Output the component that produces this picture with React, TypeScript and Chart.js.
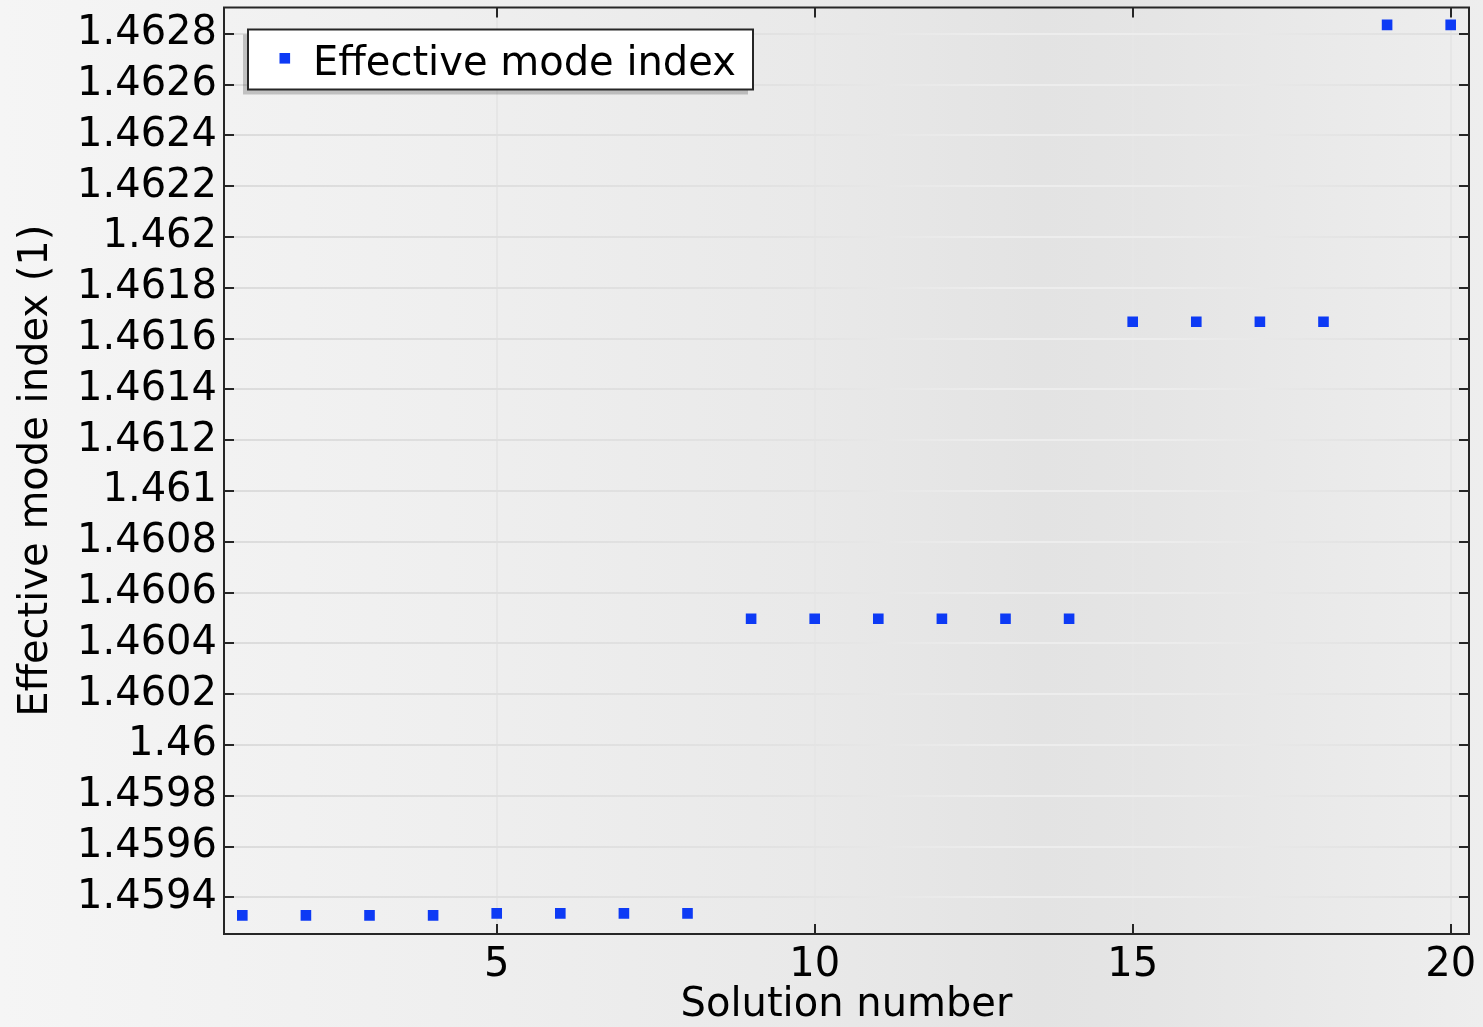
import React, { useEffect, useRef } from "react";
import { Chart, registerables } from "chart.js";

Chart.register(...registerables);

// Eigenmode solutions and their effective mode index
const SOLUTION_NUMBERS = [1, 2, 3, 4, 5, 6, 7, 8, 9, 10, 11, 12, 13, 14, 15, 16, 17, 18, 19, 20];
const EFFECTIVE_MODE_INDEX = [
  1.459329, 1.459329, 1.459329, 1.459329,
  1.459337, 1.459337, 1.459337, 1.459337,
  1.460497, 1.460497, 1.460497, 1.460497, 1.460497, 1.460497,
  1.461666, 1.461666, 1.461666, 1.461666,
  1.462835, 1.462835,
];

const X_TICKS = [5, 10, 15, 20];
const Y_TICKS = [
  1.4594, 1.4596, 1.4598, 1.46, 1.4602, 1.4604, 1.4606, 1.4608, 1.461,
  1.4612, 1.4614, 1.4616, 1.4618, 1.462, 1.4622, 1.4624, 1.4626, 1.4628,
];
const X_RANGE = [0.712, 20.288];
const Y_RANGE = [1.4592556, 1.4629035];

const SERIES_LABEL = "Effective mode index";
const X_TITLE = "Solution number";
const Y_TITLE = "Effective mode index (1)";

const FONT_FAMILY = "'DejaVu Sans', sans-serif";
const FONT_SIZE = 40;
const MARKER_COLOR = "#0d3af5";
const FRAME_COLOR = "#262626";

const W = 1483;
const H = 1027;

function shadeGradient(ctx: CanvasRenderingContext2D, x0: number, x1: number, stops: [number, string][]) {
  const g = ctx.createLinearGradient(x0, 0, x1, 0);
  stops.forEach(([p, c]) => g.addColorStop(p, c));
  return g;
}

// Soft horizontal shading of the whole figure
const backgroundPlugin = {
  id: "figureBackground",
  beforeDraw(chart: any) {
    const ctx = chart.ctx as CanvasRenderingContext2D;
    ctx.save();
    ctx.fillStyle = shadeGradient(ctx, 0, chart.width, [
      [0, "#f5f5f5"],
      [0.3, "#efefef"],
      [0.55, "#e9e9e9"],
      [0.7, "#e3e3e3"],
      [0.78, "#e5e5e5"],
      [1, "#eeeeee"],
    ]);
    ctx.fillRect(0, 0, chart.width, chart.height);
    ctx.restore();
  },
};

// Box frame with inward tick marks on all four sides
const framePlugin = {
  id: "axisFrame",
  afterDraw(chart: any) {
    const ctx = chart.ctx as CanvasRenderingContext2D;
    const { left, right, top, bottom } = chart.chartArea;
    const xs = chart.scales.x;
    const ys = chart.scales.y;
    const tickLen = 10;
    ctx.save();
    ctx.strokeStyle = FRAME_COLOR;
    ctx.lineWidth = 2;
    ctx.beginPath();
    xs.ticks.forEach((t: any) => {
      const px = Math.round(xs.getPixelForValue(t.value));
      ctx.moveTo(px, bottom);
      ctx.lineTo(px, bottom - tickLen);
      ctx.moveTo(px, top);
      ctx.lineTo(px, top + tickLen);
    });
    ys.ticks.forEach((t: any) => {
      const py = Math.round(ys.getPixelForValue(t.value));
      ctx.moveTo(left, py);
      ctx.lineTo(left + tickLen, py);
      ctx.moveTo(right, py);
      ctx.lineTo(right - tickLen, py);
    });
    ctx.stroke();
    ctx.strokeRect(left, top, right - left, bottom - top);
    ctx.restore();
  },
};

// Legend box placed inside the plot area, top-left
const insetLegendPlugin = {
  id: "insetLegend",
  afterDraw(chart: any) {
    const ctx = chart.ctx as CanvasRenderingContext2D;
    const { left, top } = chart.chartArea;
    const ds = chart.data.datasets[0];
    const bx = left + 24;
    const by = top + 22;
    const bw = 505;
    const bh = 60;
    ctx.save();
    ctx.fillStyle = "rgba(0,0,0,0.2)";
    ctx.fillRect(bx - 5, by + 5, bw, bh);
    ctx.fillStyle = "#ffffff";
    ctx.fillRect(bx, by, bw, bh);
    ctx.strokeStyle = FRAME_COLOR;
    ctx.lineWidth = 2;
    ctx.strokeRect(bx, by, bw, bh);
    ctx.fillStyle = ds.pointBackgroundColor;
    ctx.fillRect(bx + 31.5, by + 23.5, 10.6, 10.6);
    ctx.fillStyle = "#000000";
    ctx.font = `${FONT_SIZE}px ${FONT_FAMILY}`;
    ctx.textBaseline = "alphabetic";
    ctx.textAlign = "left";
    ctx.fillText(ds.label, bx + 65, by + 45);
    ctx.restore();
  },
};

export default function App() {
  const canvasRef = useRef<HTMLCanvasElement | null>(null);

  useEffect(() => {
    const canvas = canvasRef.current;
    if (!canvas) return;

    const horizontalGridColor = (c: any) => {
      const area = c.chart.chartArea;
      if (!area) return "#e4e4e4";
      return shadeGradient(c.chart.ctx, area.left, area.right, [
        [0, "#dcdcdc"],
        [0.45, "#e2e2e2"],
        [0.62, "#ededed"],
        [0.75, "#ededed"],
        [1, "#dedede"],
      ]);
    };

    const chart = new Chart(canvas, {
      type: "scatter",
      data: {
        datasets: [
          {
            label: SERIES_LABEL,
            data: SOLUTION_NUMBERS.map((n, i) => ({ x: n, y: EFFECTIVE_MODE_INDEX[i] })),
            pointStyle: "rect",
            pointRadius: 7.5,
            pointBorderWidth: 0,
            pointBackgroundColor: MARKER_COLOR,
            pointBorderColor: MARKER_COLOR,
            showLine: false,
          },
        ],
      },
      options: {
        responsive: false,
        animation: false,
        events: [],
        layout: { padding: { top: 7, right: 14, left: 0, bottom: 0 } },
        plugins: {
          legend: { display: false },
          tooltip: { enabled: false },
        },
        scales: {
          x: {
            type: "linear",
            min: X_RANGE[0],
            max: X_RANGE[1],
            afterBuildTicks: (scale: any) => {
              scale.ticks = X_TICKS.map((v) => ({ value: v }));
            },
            afterFit: (scale: any) => {
              scale.height = 93;
              scale.paddingLeft = 0;
              scale.paddingRight = 0;
            },
            border: { display: false },
            grid: {
              drawTicks: false,
              color: "#e6e6e6",
              lineWidth: 2,
            },
            ticks: {
              padding: 8,
              maxRotation: 0,
              color: "#000000",
              font: { family: FONT_FAMILY, size: FONT_SIZE },
              callback: (v: any) => String(v),
            },
            title: {
              display: true,
              text: X_TITLE,
              color: "#000000",
              padding: { top: 0, bottom: -3 },
              font: { family: FONT_FAMILY, size: FONT_SIZE },
            },
          },
          y: {
            type: "linear",
            min: Y_RANGE[0],
            max: Y_RANGE[1],
            afterBuildTicks: (scale: any) => {
              scale.ticks = Y_TICKS.map((v) => ({ value: v }));
            },
            afterFit: (scale: any) => {
              scale.width = 224;
              scale.paddingTop = 0;
              scale.paddingBottom = 0;
            },
            border: { display: false },
            grid: {
              drawTicks: false,
              color: horizontalGridColor,
              lineWidth: 2,
            },
            ticks: {
              padding: 7,
              color: "#000000",
              font: { family: FONT_FAMILY, size: FONT_SIZE },
              callback: (v: any) => String(parseFloat(Number(v).toFixed(4))),
            },
            title: {
              display: true,
              text: Y_TITLE,
              color: "#000000",
              padding: { top: 13, bottom: 0 },
              font: { family: FONT_FAMILY, size: FONT_SIZE },
            },
          },
        },
      },
      plugins: [backgroundPlugin, framePlugin, insetLegendPlugin],
    } as any);

    return () => chart.destroy();
  }, []);

  return (
    <div style={{ position: "absolute", left: 0, top: 0, width: W, height: H }}>
      <canvas ref={canvasRef} width={W} height={H} style={{ display: "block" }} />
    </div>
  );
}
